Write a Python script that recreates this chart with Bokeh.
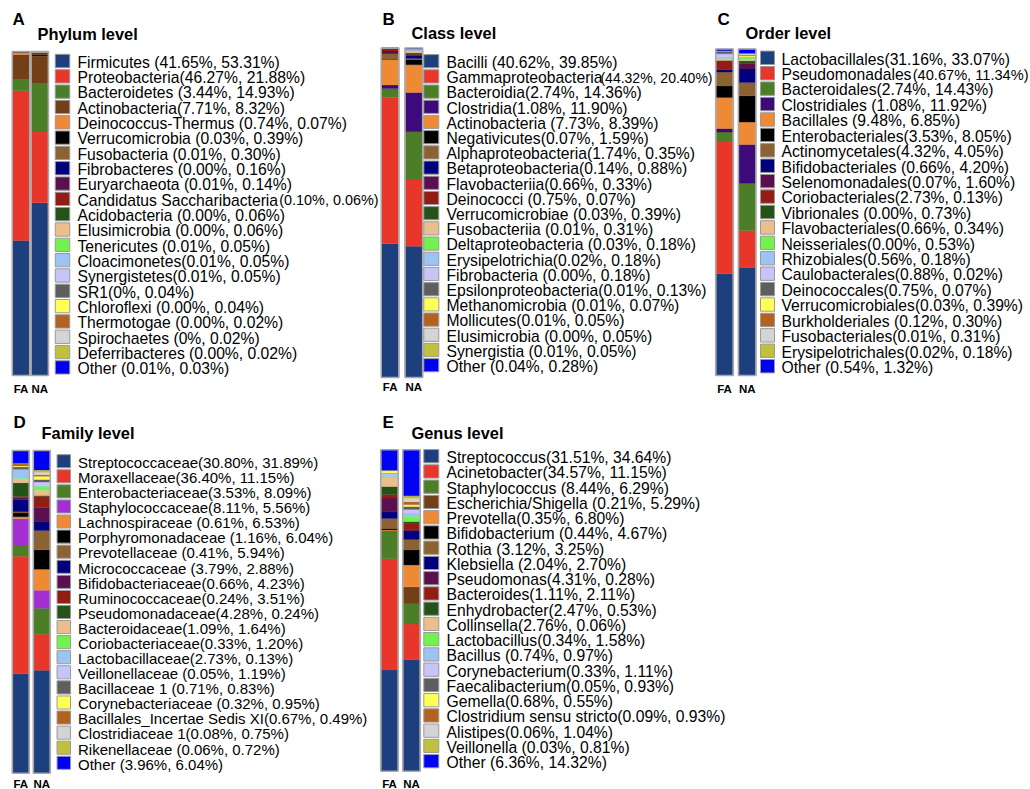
from bokeh.plotting import figure
from bokeh.models import Range1d, ColumnDataSource
from bokeh.core.properties import value
from bokeh.embed import file_html
from bokeh.resources import INLINE

# ---------------- data ----------------
groups = ["FA", "NA"]

phylum_labels = [
    "Firmicutes (41.65%, 53.31%)", "Proteobacteria(46.27%, 21.88%)", "Bacteroidetes (3.44%, 14.93%)",
    "Actinobacteria(7.71%, 8.32%)", "Deinococcus-Thermus (0.74%, 0.07%)", "Verrucomicrobia (0.03%, 0.39%)",
    "Fusobacteria (0.01%, 0.30%)", "Fibrobacteres (0.00%, 0.16%)", "Euryarchaeota (0.01%, 0.14%)",
    "Candidatus Saccharibacteria|(0.10%, 0.06%)", "Acidobacteria (0.00%, 0.06%)", "Elusimicrobia (0.00%, 0.06%)",
    "Tenericutes (0.01%, 0.05%)", "Cloacimonetes(0.01%, 0.05%)", "Synergistetes(0.01%, 0.05%)",
    "SR1(0%, 0.04%)", "Chloroflexi (0.00%, 0.04%)", "Thermotogae (0.00%, 0.02%)",
    "Spirochaetes (0%, 0.02%)", "Deferribacteres (0.00%, 0.02%)", "Other (0.01%, 0.03%)",
]
phylum_fa = [41.65, 46.27, 3.44, 7.71, 0.74, 0.03, 0.01, 0.00, 0.01, 0.10, 0.00, 0.00, 0.01, 0.01, 0.01, 0.0, 0.00, 0.00, 0.0, 0.00, 0.01]
phylum_na = [53.31, 21.88, 14.93, 8.32, 0.07, 0.39, 0.30, 0.16, 0.14, 0.06, 0.06, 0.06, 0.05, 0.05, 0.05, 0.04, 0.04, 0.02, 0.02, 0.02, 0.03]

class_labels = [
    "Bacilli (40.62%, 39.85%)", "Gammaproteobacteria|(44.32%, 20.40%)", "Bacteroidia(2.74%, 14.36%)",
    "Clostridia(1.08%, 11.90%)", "Actinobacteria (7.73%, 8.39%)", "Negativicutes(0.07%, 1.59%)",
    "Alphaproteobacteria(1.74%, 0.35%)", "Betaproteobacteria(0.14%, 0.88%)", "Flavobacteriia(0.66%, 0.33%)",
    "Deinococci (0.75%, 0.07%)", "Verrucomicrobiae (0.03%, 0.39%)", "Fusobacteriia (0.01%, 0.31%)",
    "Deltaproteobacteria (0.03%, 0.18%)", "Erysipelotrichia(0.02%, 0.18%)", "Fibrobacteria (0.00%, 0.18%)",
    "Epsilonproteobacteria(0.01%, 0.13%)", "Methanomicrobia (0.01%, 0.07%)", "Mollicutes(0.01%, 0.05%)",
    "Elusimicrobia (0.00%, 0.05%)", "Synergistia (0.01%, 0.05%)", "Other (0.04%, 0.28%)",
]
class_fa = [40.62, 44.32, 2.74, 1.08, 7.73, 0.07, 1.74, 0.14, 0.66, 0.75, 0.03, 0.01, 0.03, 0.02, 0.00, 0.01, 0.01, 0.01, 0.00, 0.01, 0.04]
class_na = [39.85, 20.40, 14.36, 11.90, 8.39, 1.59, 0.35, 0.88, 0.33, 0.07, 0.39, 0.31, 0.18, 0.18, 0.18, 0.13, 0.07, 0.05, 0.05, 0.05, 0.28]

order_labels = [
    "Lactobacillales(31.16%, 33.07%)", "Pseudomonadales|(40.67%, 11.34%)", "Bacteroidales(2.74%, 14.43%)",
    "Clostridiales (1.08%, 11.92%)", "Bacillales (9.48%, 6.85%)", "Enterobacteriales(3.53%, 8.05%)",
    "Actinomycetales(4.32%, 4.05%)", "Bifidobacteriales (0.66%, 4.20%)", "Selenomonadales(0.07%, 1.60%)",
    "Coriobacteriales(2.73%, 0.13%)", "Vibrionales (0.00%, 0.73%)", "Flavobacteriales(0.66%, 0.34%)",
    "Neisseriales(0.00%, 0.53%)", "Rhizobiales(0.56%, 0.18%)", "Caulobacterales(0.88%, 0.02%)",
    "Deinococcales(0.75%, 0.07%)", "Verrucomicrobiales(0.03%, 0.39%)", "Burkholderiales (0.12%, 0.30%)",
    "Fusobacteriales(0.01%, 0.31%)", "Erysipelotrichales(0.02%, 0.18%)", "Other (0.54%, 1.32%)",
]
order_fa = [31.16, 40.67, 2.74, 1.08, 9.48, 3.53, 4.32, 0.66, 0.07, 2.73, 0.00, 0.66, 0.00, 0.56, 0.88, 0.75, 0.03, 0.12, 0.01, 0.02, 0.54]
order_na = [33.07, 11.34, 14.43, 11.92, 6.85, 8.05, 4.05, 4.20, 1.60, 0.13, 0.73, 0.34, 0.53, 0.18, 0.02, 0.07, 0.39, 0.30, 0.31, 0.18, 1.32]

family_labels = [
    "Streptococcaceae(30.80%, 31.89%)", "Moraxellaceae(36.40%, 11.15%)", "Enterobacteriaceae(3.53%, 8.09%)",
    "Staphylococcaceae(8.11%, 5.56%)", "Lachnospiraceae (0.61%, 6.53%)", "Porphyromonadaceae (1.16%, 6.04%)",
    "Prevotellaceae (0.41%, 5.94%)", "Micrococcaceae  (3.79%, 2.88%)", "Bifidobacteriaceae(0.66%, 4.23%)",
    "Ruminococcaceae(0.24%, 3.51%)", "Pseudomonadaceae(4.28%, 0.24%)", "Bacteroidaceae(1.09%, 1.64%)",
    "Coriobacteriaceae(0.33%, 1.20%)", "Lactobacillaceae(2.73%, 0.13%)", "Veillonellaceae (0.05%, 1.19%)",
    "Bacillaceae 1 (0.71%, 0.83%)", "Corynebacteriaceae (0.32%, 0.95%)", "Bacillales_Incertae Sedis XI(0.67%, 0.49%)",
    "Clostridiaceae 1(0.08%, 0.75%)", "Rikenellaceae (0.06%, 0.72%)", "Other (3.96%, 6.04%)",
]
family_fa = [30.80, 36.40, 3.53, 8.11, 0.61, 1.16, 0.41, 3.79, 0.66, 0.24, 4.28, 1.09, 0.33, 2.73, 0.05, 0.71, 0.32, 0.67, 0.08, 0.06, 3.96]
family_na = [31.89, 11.15, 8.09, 5.56, 6.53, 6.04, 5.94, 2.88, 4.23, 3.51, 0.24, 1.64, 1.20, 0.13, 1.19, 0.83, 0.95, 0.49, 0.75, 0.72, 6.04]

genus_labels = [
    "Streptococcus(31.51%, 34.64%)", "Acinetobacter(34.57%, 11.15%)", "Staphylococcus (8.44%, 6.29%)",
    "Escherichia/Shigella (0.21%, 5.29%)", "Prevotella(0.35%, 6.80%)", "Bifidobacterium (0.44%, 4.67%)",
    "Rothia (3.12%, 3.25%)", "Klebsiella (2.04%, 2.70%)", "Pseudomonas(4.31%, 0.28%)",
    "Bacteroides(1.11%, 2.11%)", "Enhydrobacter(2.47%, 0.53%)", "Collinsella(2.76%, 0.06%)",
    "Lactobacillus(0.34%, 1.58%)", "Bacillus (0.74%, 0.97%)", "Corynebacterium(0.33%, 1.11%)",
    "Faecalibacterium(0.05%, 0.93%)", "Gemella(0.68%, 0.55%)", "Clostridium sensu stricto(0.09%, 0.93%)",
    "Alistipes(0.06%, 1.04%)", "Veillonella (0.03%, 0.81%)", "Other (6.36%, 14.32%)",
]
genus_fa = [31.51, 34.57, 8.44, 0.21, 0.35, 0.44, 3.12, 2.04, 4.31, 1.11, 2.47, 2.76, 0.34, 0.74, 0.33, 0.05, 0.68, 0.09, 0.06, 0.03, 6.36]
genus_na = [34.64, 11.15, 6.29, 5.29, 6.80, 4.67, 3.25, 2.70, 0.28, 2.11, 0.53, 0.06, 1.58, 0.97, 1.11, 0.93, 0.55, 0.93, 1.04, 0.81, 14.32]

# ---------------- styles ----------------
base_colors = ["#1E3F7D", "#E8372A", "#4C7D27", "#733F17", "#EE8A36", "#000000", "#8C6232",
               "#00007F", "#5A0F4F", "#931C14", "#245218", "#EBBF8C", "#72F24F", "#9DC3F5",
               "#C6C5F7", "#5E5E5E", "#FFFF55", "#B3621F", "#D4D4D4", "#C0BF3E", "#0000F5"]

def palette(fourth):
    c = list(base_colors)
    c[3] = fourth
    return c

FONT = value("Liberation Sans")
FIG_W, FIG_H = 1030, 789
X0, Y0 = 0, 0  # coordinates below are picture pixels

p = figure(width=FIG_W, height=FIG_H,
           x_range=Range1d(X0, X0 + FIG_W), y_range=Range1d(Y0 + FIG_H, Y0),
           output_backend="svg", toolbar_location=None, min_border=0,
           x_axis_location=None, y_axis_location=None)
p.grid.grid_line_color = None
p.outline_line_color = None
p.background_fill_color = "white"

panels = [
    dict(key="A", title="Phylum level", labels=phylum_labels, fa=phylum_fa, na=phylum_na,
         colors=palette("#733F17"), letter_xy=(12, 19), title_xy=(37, 33),
         fa_x=20.5, na_x=39.2, bar_w=16.5, bar_top=51, bar_bot=375, lab_y=388,
         sq_x=62, sq_w=14.5, leg_y0=60.5, pitch=15.32, txt_x=77, fs="15.7px", suffix_x=378, suffix_fs="14.4px"),
    dict(key="B", title="Class level", labels=class_labels, fa=class_fa, na=class_na,
         colors=palette("#3C0A7A"), letter_xy=(382, 19), title_xy=(411, 32.5),
         fa_x=389.6, na_x=413.3, bar_w=16.8, bar_top=47.5, bar_bot=377, lab_y=386,
         sq_x=430.8, sq_w=15, leg_y0=60.7, pitch=15.2, txt_x=446, fs="15.7px", suffix_x=712, suffix_fs="14px"),
    dict(key="C", title="Order level", labels=order_labels, fa=order_fa, na=order_na,
         colors=palette("#3C0A7A"), letter_xy=(717, 19), title_xy=(745, 32),
         fa_x=724, na_x=746.7, bar_w=16.6, bar_top=48.5, bar_bot=375, lab_y=388,
         sq_x=767, sq_w=14, leg_y0=57.3, pitch=15.42, txt_x=781, fs="15.7px", suffix_x=1028, suffix_fs="14.6px"),
    dict(key="D", title="Family level", labels=family_labels, fa=family_fa, na=family_na,
         colors=palette("#A32FD3"), letter_xy=(13, 421.7), title_xy=(41, 432),
         fa_x=20.3, na_x=41.3, bar_w=16, bar_top=450, bar_bot=772.7, lab_y=783,
         sq_x=63.3, sq_w=13.5, leg_y0=460.7, pitch=15.08, txt_x=77.5, fs="15px", suffix_x=0, suffix_fs="14px"),
    dict(key="E", title="Genus level", labels=genus_labels, fa=genus_fa, na=genus_na,
         colors=palette("#733F17"), letter_xy=(382, 421.7), title_xy=(411, 432),
         fa_x=389, na_x=411, bar_w=16.5, bar_top=449.3, bar_bot=770.7, lab_y=783,
         sq_x=430.8, sq_w=15, leg_y0=455.7, pitch=15.25, txt_x=446, fs="15.7px", suffix_x=0, suffix_fs="14px"),
]

extra = {}
for g in panels:
    span = g["bar_bot"] - g["bar_top"]
    extra[g["key"]] = Range1d((g["bar_bot"] - (Y0 + FIG_H)) / span * 100.0,
                              (g["bar_bot"] - Y0) / span * 100.0)
p.extra_y_ranges = extra

for g in panels:
    key = g["key"]
    n = len(g["labels"])
    stack_keys = [f"{key}_{i}" for i in range(n)]
    data = {"x": [g["fa_x"], g["na_x"]], "grp": groups}
    for k, a, b in zip(stack_keys, g["fa"], g["na"]):
        data[k] = [a, b]
    src = ColumnDataSource(data)
    p.vbar_stack(stack_keys, x="x", width=g["bar_w"], color=g["colors"], source=src,
                 y_range_name=key, line_width=0.3)
    # bar outlines
    p.vbar(x="x", bottom=0, top=100, width=g["bar_w"] + 1, source=src, fill_color=None,
           line_color="#A8A8A8", line_width=1.6, y_range_name=key)

    # legend squares
    ys = [g["leg_y0"] + i * g["pitch"] for i in range(n)]
    p.rect(x=g["sq_x"], y=ys, width=g["sq_w"], height=g["pitch"] - 2.0,
           width_units="screen", height_units="screen",
           fill_color=g["colors"], line_color="#9A9A9A", line_width=1)

    names, suffixes, suffix_y = [], [], []
    for lab, yy in zip(g["labels"], ys):
        if "|" in lab:
            a, b = lab.split("|")
            names.append(a)
            suffixes.append(b)
            suffix_y.append(yy + 1.3)
        else:
            names.append(lab)
    p.text(x=g["txt_x"], y=[yy + 1.3 for yy in ys], text=names, text_font=FONT,
           text_font_size=g["fs"], text_baseline="middle", text_align="left", text_color="black")
    if suffixes:
        p.text(x=g["suffix_x"], y=suffix_y, text=suffixes, text_font=FONT,
               text_font_size=g["suffix_fs"], text_baseline="middle", text_align="right", text_color="black")

    # group labels
    p.text(x="x", y=g["lab_y"], text="grp", source=src, text_font=FONT, text_font_style="bold",
           text_font_size="11.5px", text_baseline="middle", text_align="center", text_color="black")

    # panel letter and title
    p.text(x=[g["letter_xy"][0]], y=[g["letter_xy"][1]], text=[key], text_font=FONT,
           text_font_style="bold", text_font_size="17px", text_baseline="middle", text_color="black")
    p.text(x=[g["title_xy"][0]], y=[g["title_xy"][1]], text=[g["title"]], text_font=FONT,
           text_font_style="bold", text_font_size="16.4px", text_baseline="middle", text_color="black")

open("out.html", "w").write(file_html(p, INLINE))
